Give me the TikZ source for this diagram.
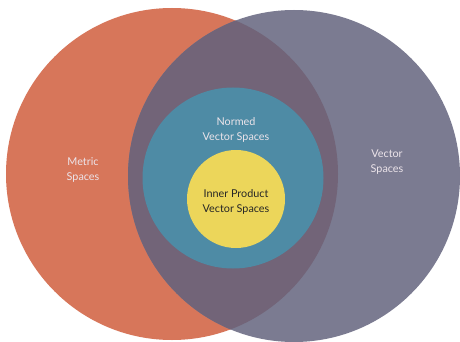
\documentclass[tikz,border=0pt]{standalone}
\usepackage{fontspec}
\setmainfont{Lato}
\usepackage{tikz}
\usetikzlibrary{positioning}
\definecolor{metricorange}{RGB}{215,118,90}
\definecolor{vectorgray}  {RGB}{123,123,145}
\definecolor{overlapplum} {RGB}{114,100,120}
\definecolor{normedteal}  {RGB}{78,139,165}
\definecolor{innerYellow} {RGB}{236,214,90}
\definecolor{labelwhite}  {RGB}{236,228,234}

\begin{document}
\begin{tikzpicture}[
  x=1pt, y=-1pt,
  font=\fontsize{10.8}{15}\selectfont,
  set/.style={circle, inner sep=0pt, align=center},
  metric/.style={set, fill=metricorange, minimum size=332pt},
  vector/.style={set, fill=vectorgray,   minimum size=332pt},
  normed/.style={set, fill=normedteal,   minimum size=181pt},
  inner/.style={set,  fill=innerYellow,  minimum size=98pt},
  lbl/.style={align=center, text=labelwhite},
]
\useasboundingbox[fill=white] (0,0) rectangle (460,342);

% Outer sets
\node[metric] (ms) at (172,174) {};
\node[vector] (vs) at (294,176) {};

% Overlap of the two outer sets
\begin{scope}
  \clip (172,174) circle (166pt);
  \fill[overlapplum] (294,176) circle (166pt);
\end{scope}

% Nested sets
\node[normed] (nvs) at (233,178) {};
\node[inner]  (ips) at (236,199) {};

% Labels
\node[lbl] (msl)  at (83,170)  {Metric\\Spaces};
\node[lbl] (vsl)  at (387,162) {Vector\\Spaces};
\node[lbl] (nvsl) at (236,130) {Normed\\Vector Spaces};
\node[align=center, text=black!85] (ipsl) at (236,202) {Inner Product\\Vector Spaces};

\end{tikzpicture}
\end{document}
